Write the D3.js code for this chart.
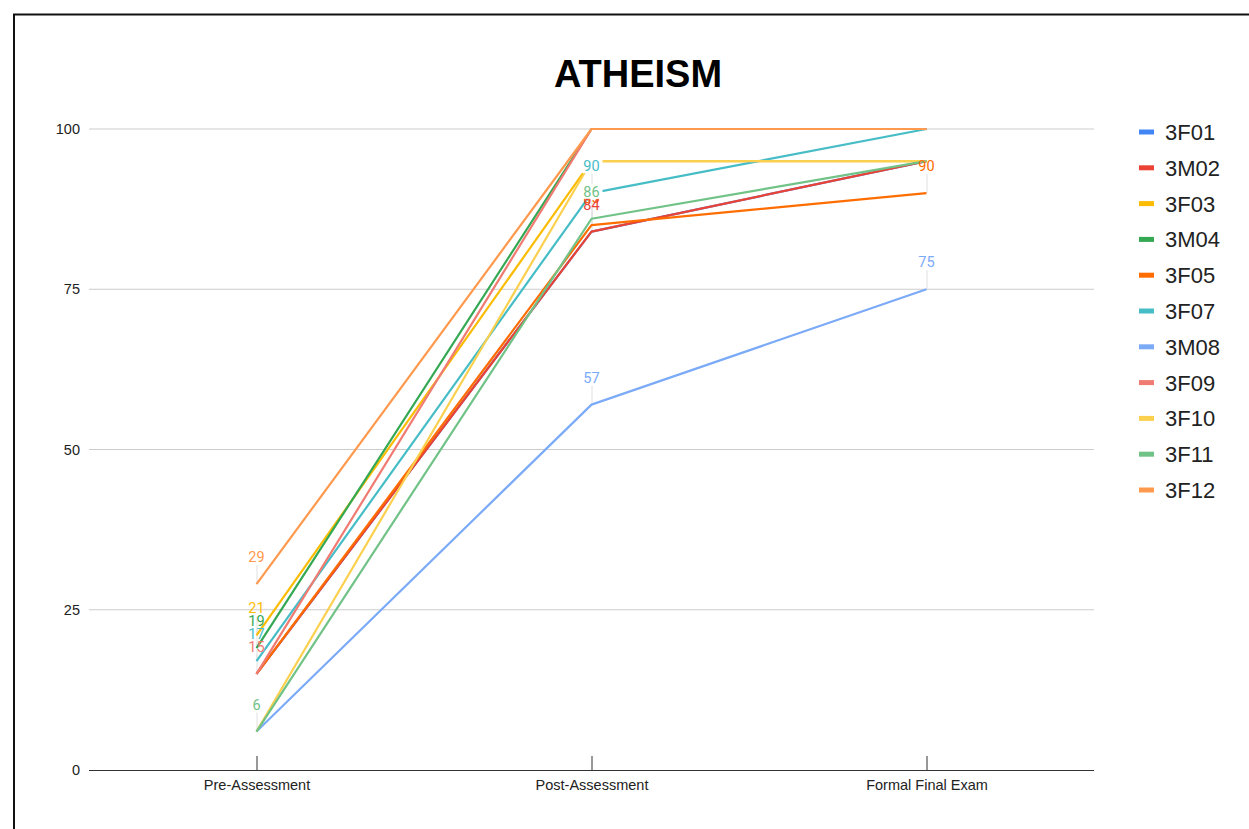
<!DOCTYPE html>
<html><head><meta charset="utf-8">
<script src="https://cdn.jsdelivr.net/npm/d3@7/dist/d3.min.js"></script>
<style>body{margin:0;background:#fff;}svg{display:block;}</style>
</head><body>
<svg id="c" width="1249" height="829"></svg>
<script>
const categories = ["Pre-Assessment", "Post-Assessment", "Formal Final Exam"];
const seriesNames = ["3F01","3M02","3F03","3M04","3F05","3F07","3M08","3F09","3F10","3F11","3F12"];
const seriesColors = ["#4285F4","#EA4335","#FBBC04","#34A853","#FF6D01","#46BDC6","#7BAAF7","#F07B72","#FCD04F","#71C287","#FF994D"];
const v3F01 = [15, 84, 95];
const v3M02 = [15, 84, 95];
const v3F03 = [21, 95, 95];
const v3M04 = [19, 100, 100];
const v3F05 = [15, 85, 90];
const v3F07 = [17, 90, 100];
const v3M08 = [6, 57, 75];
const v3F09 = [15, 100, 100];
const v3F10 = [6, 95, 95];
const v3F11 = [6, 86, 95];
const v3F12 = [29, 100, 100];
const yTicks = [0, 25, 50, 75, 100];
// which points carry a visible data label: [series, category index]
const labelPoints = [["3F05",1],["3M02",1],["3F12",0],["3F03",0],["3M04",0],["3F07",0],["3F09",0],["3F11",0],
                     ["3F07",1],["3F11",1],["3M08",1],["3F05",2],["3M08",2]];

const values = [v3F01,v3M02,v3F03,v3M04,v3F05,v3F07,v3M08,v3F09,v3F10,v3F11,v3F12];
const series = seriesNames.map((n,i)=>({name:n,color:seriesColors[i],values:values[i]}));
const byName = Object.fromEntries(series.map(s=>[s.name,s]));

const svg = d3.select("#c");
svg.append("rect").attr("x",14).attr("y",14.5).attr("width",1300).attr("height",900)
  .attr("fill","#fff").attr("stroke","#111").attr("stroke-width",2);

svg.append("text").attr("x",638).attr("y",87).attr("text-anchor","middle")
  .attr("font-family","Liberation Sans, Arial, sans-serif").attr("font-weight","bold")
  .attr("font-size",38).attr("fill","#000").text("ATHEISM");

const L=89, R=1094, T=129, B=770;
const x = d3.scalePoint().domain(categories).range([L,R]).padding(0.5);
const y = d3.scaleLinear().domain([0,100]).range([B,T]);

// grid
svg.append("g").selectAll("line").data(yTicks.filter(d=>d>0)).join("line")
  .attr("x1",L).attr("x2",R).attr("y1",d=>y(d)).attr("y2",d=>y(d))
  .attr("stroke","#cccccc").attr("stroke-width",1);

// y axis labels
const ya = svg.append("g").attr("transform",`translate(${L},0)`)
  .call(d3.axisLeft(y).tickValues(yTicks).tickSize(0).tickPadding(9));
ya.select(".domain").remove();
ya.selectAll("text").attr("font-family","Liberation Sans, Arial, sans-serif").attr("font-size",14.5).attr("fill","#222");

// x axis
const xa = svg.append("g").attr("transform",`translate(0,${B})`)
  .call(d3.axisBottom(x).tickSize(0).tickPadding(10));
xa.select(".domain").attr("d",`M${L},0.5H${R}`).attr("stroke","#333");
xa.selectAll("text").attr("font-family","Liberation Sans, Arial, sans-serif").attr("font-size",14.5).attr("fill","#222");
xa.selectAll(".tick").append("line").attr("y1",0).attr("y2",-14).attr("stroke","#333");

// leader lines
const labels = labelPoints.map(([n,i])=>({s:byName[n],i}));
svg.append("g").selectAll("line").data(labels).join("line")
  .attr("x1",d=>x(categories[d.i])+0.5).attr("x2",d=>x(categories[d.i])+0.5)
  .attr("y1",d=>y(d.s.values[d.i])-19).attr("y2",d=>y(d.s.values[d.i]))
  .attr("stroke","#e0e0e0").attr("stroke-width",1);

// lines
const line = d3.line().x((d,i)=>x(categories[i])).y(d=>y(d));
svg.append("g").selectAll("path").data(series).join("path")
  .attr("d",d=>line(d.values)).attr("fill","none")
  .attr("stroke",d=>d.color).attr("stroke-width",2.2).attr("stroke-linejoin","round");

// data labels
const lg = svg.append("g");
labels.forEach(d=>{
  const cx = x(categories[d.i]), cy = y(d.s.values[d.i]) - 22;
  const g = lg.append("g");
  if (d.s.name==="3F11" && d.i===1 || d.s.name==="3F07" && d.i===1) {
    g.append("rect").attr("x",cx-10).attr("y",cy-13).attr("width",21).attr("height",15).attr("fill","#fff");
  }
  g.append("text").attr("x",cx).attr("y",cy).attr("text-anchor","middle")
    .attr("font-family","Roboto, sans-serif").attr("font-size",14.5).attr("fill",d.s.color)
    .text(d.s.values[d.i]);
});

// legend
const leg = svg.append("g").selectAll("g").data(series).join("g")
  .attr("transform",(d,i)=>`translate(1139,${132+i*35.8})`);
leg.append("line").attr("x1",0).attr("x2",15).attr("y1",0).attr("y2",0)
  .attr("stroke",d=>d.color).attr("stroke-width",5);
leg.append("text").attr("x",26).attr("y",8).attr("font-family","Liberation Sans, Arial, sans-serif")
  .attr("font-size",22).attr("fill","#222").text(d=>d.name);
</script>
</body></html>
